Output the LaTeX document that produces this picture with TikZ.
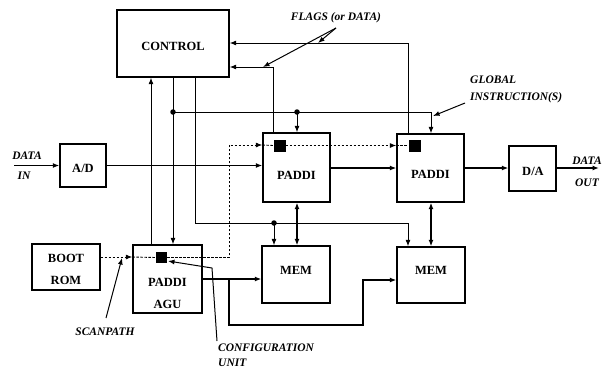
\documentclass[tikz,border=0pt]{standalone}
\usepackage{fontspec}
\setmainfont{Liberation Serif}
\usetikzlibrary{arrows.meta,calc}
\begin{document}
\begin{tikzpicture}[x=1pt,y=-1pt,
  blk/.style={draw,line width=1.3pt,inner sep=0pt},
  btxt/.style={font=\fontsize{12.5}{14}\selectfont\bfseries,inner sep=0pt},
  ltxt/.style={font=\fontsize{11.5}{13}\selectfont\bfseries\itshape,inner sep=0pt},
  cu/.style={fill=black,minimum size=12pt,inner sep=0pt},
  ctl/.style={line width=1pt},
  dat/.style={line width=1.8pt},
  arr/.style={-{Latex[length=6.5pt,width=5pt]}},
  darr/.style={{Latex[length=6.5pt,width=5pt]}-{Latex[length=6.5pt,width=5pt]}},
  scan/.style={line width=0.9pt,dash pattern=on 2.5pt off 1.5pt},
  dot/.style={circle,fill=black,inner sep=0pt,minimum size=5.5pt}]
\useasboundingbox (0,0) rectangle (605,376);

% blocks
\node[blk,minimum width=112pt,minimum height=67pt] (ctrl) at (173,43.5) {};
\node[blk,minimum width=46pt,minimum height=43pt] (ad) at (83,165.5) {};
\node[blk,minimum width=67pt,minimum height=69pt] (p1) at (296.5,167.5) {};
\node[blk,minimum width=67pt,minimum height=68pt] (p2) at (430.5,168) {};
\node[blk,minimum width=47pt,minimum height=45pt] (da) at (532.5,168.5) {};
\node[blk,minimum width=68pt,minimum height=57pt] (m1) at (296,274.5) {};
\node[blk,minimum width=68pt,minimum height=56pt] (m2) at (431,275) {};
\node[blk,minimum width=68pt,minimum height=46pt] (boot) at (66,267) {};
\node[blk,minimum width=69pt,minimum height=68pt] (agu) at (167.5,279) {};

% configuration units
\node[cu,minimum size=11pt] (cu0) at (161.5,257.5) {};
\node[cu] (cu1) at (279.5,145.5) {};
\node[cu] (cu2) at (414.5,145.5) {};

% block texts
\node[btxt] at (173,46) {CONTROL};
\node[btxt] at (83,168) {A/D};
\node[btxt] at (296.5,175) {PADDI};
\node[btxt] at (430.5,174) {PADDI};
\node[btxt] at (533,171) {D/A};
\node[btxt] at (296,270) {MEM};
\node[btxt] at (431,270) {MEM};
\node[btxt] at (66,258) {BOOT};
\node[btxt] at (66,280) {ROM};
\node[btxt] at (167.5,282) {PADDI};
\node[btxt] at (167.5,304) {AGU};

% labels
\node[ltxt] (flags) at (336,18) {FLAGS (or DATA)};
\node[ltxt,anchor=west] (glob1) at (470,80) {GLOBAL};
\node[ltxt,anchor=west] (glob2) at (470,98) {INSTRUCTION(S)};
\node[ltxt] (din1) at (27,156) {DATA};
\node[ltxt] (din2) at (24,176) {IN};
\node[ltxt] (dout1) at (587,161) {DATA};
\node[ltxt] (dout2) at (587,183) {OUT};
\node[ltxt] (scanl) at (105,332) {SCANPATH};
\node[ltxt,anchor=west] (conf1) at (218,348) {CONFIGURATION};
\node[ltxt,anchor=west] (conf2) at (218,363) {UNIT};

% flag lines
\draw[ctl,arr] (273,0 |- p1.north) |- (ctrl.east |- 0,67);
\draw[ctl,arr] (408,0 |- p2.north) |- (ctrl.east |- 0,43);

% control bus
\draw[ctl,arr] (151,0 |- agu.north) -- (151,0 |- ctrl.south);
\draw[ctl,arr] (173,0 |- ctrl.south) -- (173,0 |- agu.north);
\node[dot] (d1) at (173,112) {};
\draw[ctl,arr] (d1.center) -| (431,0 |- p2.north);
\node[dot] (d2) at (297,112) {};
\draw[ctl,arr] (d2.center) -- (297,0 |- p1.north);
\draw[ctl,arr] (195,0 |- ctrl.south) |- (408,223) -- (408,0 |- m2.north);
\node[dot] (d3) at (274,223) {};
\draw[ctl,arr] (d3.center) -- (274,0 |- m1.north);

% data path
\draw[dat,arr] (14,0 |- ad.west) -- (ad.west);
\draw[dat,arr] (ad.east) -- (p1.west |- ad.east);
\draw[dat,arr] (p1.east |- 0,168) -- (p2.west |- 0,168);
\draw[dat,arr] (p2.east |- 0,168) -- (da.west |- 0,168);
\coordinate (dout) at (599,168);
\draw[dat,arr] (da.east |- dout) -- (dout);
\draw[dat,darr] (297,0 |- p1.south) -- (297,0 |- m1.north);
\draw[dat,darr] (431,0 |- p2.south) -- (431,0 |- m2.north);
\draw[dat,arr] (agu.east |- 0,279) -- (m1.west |- 0,279);
\draw[dat,arr] (229,279) |- (363,325) |- (m2.west |- 0,280);

% scan path
\draw[scan,arr] (boot.east |- 0,257) -- (agu.west |- 0,257);
\draw[scan] (agu.west |- 0,257) -- (cu0.west);
\draw[scan,arr] (cu0.east) -| (229,145) -- (p1.west |- 0,145);
\draw[scan] (p1.west |- 0,145) -- (cu1.west);
\draw[scan,arr] (cu1.east) -- (p2.west |- cu1.east);
\draw[scan] (p2.west |- cu1.east) -- (cu2.west);

% pointers
\draw[ctl,arr] (336,28) -- (263,67);
\draw[ctl,arr] (336,28) -- (318,43);
\draw[ctl,arr] (465,103) -- (433,116);
\draw[ctl,arr] (106,318) -- (122,258);
\draw[ctl,arr] (217,341) -- (212,268) -- (168,261);
\end{tikzpicture}
\end{document}
